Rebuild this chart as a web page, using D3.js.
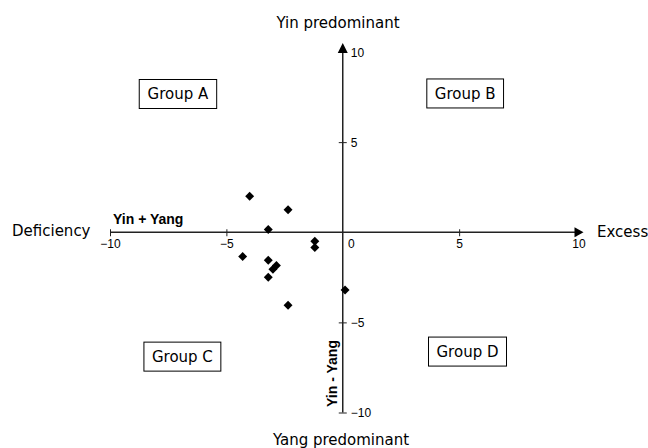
<!DOCTYPE html>
<html>
<head>
<meta charset="utf-8">
<script src="https://cdn.jsdelivr.net/npm/d3@7"></script>
<style>
  html, body { margin: 0; padding: 0; background: #fff; }
  svg { display: block; }
</style>
</head>
<body>
<svg id="chart" width="648" height="448"></svg>
<script>
// ---- Data ----
const xValues = [-4.0, -2.35, -3.2, -1.2, -1.2, -4.3, -3.2, -3.0, -2.85, -3.2, 0.1, -2.35];
const yValues = [2.0, 1.25, 0.15, -0.5, -0.85, -1.35, -1.55, -2.05, -1.85, -2.5, -3.2, -4.05];
const xTickValues = [-10, -5, 0, 5, 10];
const yTickValues = [-10, -5, 5, 10];
const groupLabels = ["Group A", "Group B", "Group C", "Group D"];
const groupX = [-7.08, 5.26, -6.89, 5.36];
const groupY = [7.67, 7.7, -6.9, -6.62];

// ---- Layout ----
const svg = d3.select("#chart");
const x = d3.scaleLinear().domain([-10, 10]).range([110, 575.5]);
const y = d3.scaleLinear().domain([-10, 10]).range([412.5, 52]);
const x0 = x(0), y0 = y(0);
const axisColor = "#222";
const tickFont = "'Liberation Sans', Arial, sans-serif";
const labelFont = "'DejaVu Sans', Verdana, sans-serif";

// Horizontal axis
const xAxis = d3.axisBottom(x).tickValues(xTickValues).tickSize(4).tickFormat(d3.format("d"));
const gx = svg.append("g").attr("transform", `translate(0,${y0})`).call(xAxis)
  .attr("font-family", tickFont).attr("font-size", 12);
gx.select(".domain").remove();
gx.selectAll(".tick line").attr("y1", -3).attr("y2", 4).attr("stroke", axisColor);
gx.selectAll(".tick").filter(d => d === 0).select("line").remove();
gx.selectAll(".tick text")
  .attr("y", 16).attr("dy", 0)
  .attr("dx", d => d === 0 ? 8 : (d === 10 ? 3 : 0))
  .attr("fill", "#000");
svg.append("line")
  .attr("x1", x(-10)).attr("x2", x(10)).attr("y1", y0).attr("y2", y0)
  .attr("stroke", axisColor).attr("stroke-width", 1.5);
svg.append("path")
  .attr("d", `M${x(10) - 1},${y0 - 5} L${x(10) + 8},${y0} L${x(10) - 1},${y0 + 5} Z`)
  .attr("fill", "#000");

// Vertical axis
const yAxis = d3.axisRight(y).tickValues(yTickValues).tickSize(4).tickFormat(d3.format("d"));
const gy = svg.append("g").attr("transform", `translate(${x0},0)`).call(yAxis)
  .attr("font-family", tickFont).attr("font-size", 12);
gy.select(".domain").remove();
gy.selectAll(".tick line").attr("x1", -4).attr("x2", 4).attr("stroke", axisColor);
gy.selectAll(".tick text")
  .attr("x", 8).attr("dy", "0.35em")
  .attr("fill", "#000");
svg.append("line")
  .attr("x1", x0).attr("x2", x0).attr("y1", y(-10)).attr("y2", y(10))
  .attr("stroke", axisColor).attr("stroke-width", 1.5);
svg.append("path")
  .attr("d", `M${x0 - 5},${y(10) + 1} L${x0},${y(10) - 9} L${x0 + 5},${y(10) + 1} Z`)
  .attr("fill", "#000");

// Points (diamonds)
const diamond = d3.symbol().type(d3.symbolSquare).size(40);
svg.append("g").selectAll("path")
  .data(xValues.map((v, i) => ({ x: v, y: yValues[i] })))
  .join("path")
  .attr("d", diamond)
  .attr("transform", d => `translate(${x(d.x)},${y(d.y)}) rotate(45)`)
  .attr("fill", "#000");

// Axis titles
svg.append("text").attr("x", 338).attr("y", 28).attr("text-anchor", "middle")
  .attr("font-family", labelFont).attr("font-size", 15).text("Yin predominant");
svg.append("text").attr("x", 341).attr("y", 445).attr("text-anchor", "middle")
  .attr("font-family", labelFont).attr("font-size", 15).text("Yang predominant");
svg.append("text").attr("x", 12).attr("y", 236)
  .attr("font-family", labelFont).attr("font-size", 15).text("Deficiency");
svg.append("text").attr("x", 597).attr("y", 236.5)
  .attr("font-family", labelFont).attr("font-size", 15).text("Excess");
svg.append("text").attr("x", 113).attr("y", 224)
  .attr("font-family", tickFont).attr("font-weight", "bold").attr("font-size", 14).text("Yin + Yang");
svg.append("text").attr("transform", "translate(336.5,373.5) rotate(-90)").attr("text-anchor", "middle")
  .attr("font-family", tickFont).attr("font-weight", "bold").attr("font-size", 14).text("Yin - Yang");

// Group boxes
groupLabels.forEach((lab, i) => {
  const cx = x(groupX[i]), cy = y(groupY[i]);
  const g = svg.append("g");
  const t = g.append("text").attr("x", cx).attr("y", cy + 5.5).attr("text-anchor", "middle")
    .attr("font-family", labelFont).attr("font-size", 15).text(lab);
  const bb = t.node().getBBox();
  const w = bb.width + 16, h = 29;
  g.insert("rect", "text")
    .attr("x", cx - w / 2).attr("y", cy - h / 2).attr("width", w).attr("height", h)
    .attr("fill", "#fff").attr("stroke", "#000").attr("stroke-width", 1);
});
</script>
</body>
</html>
